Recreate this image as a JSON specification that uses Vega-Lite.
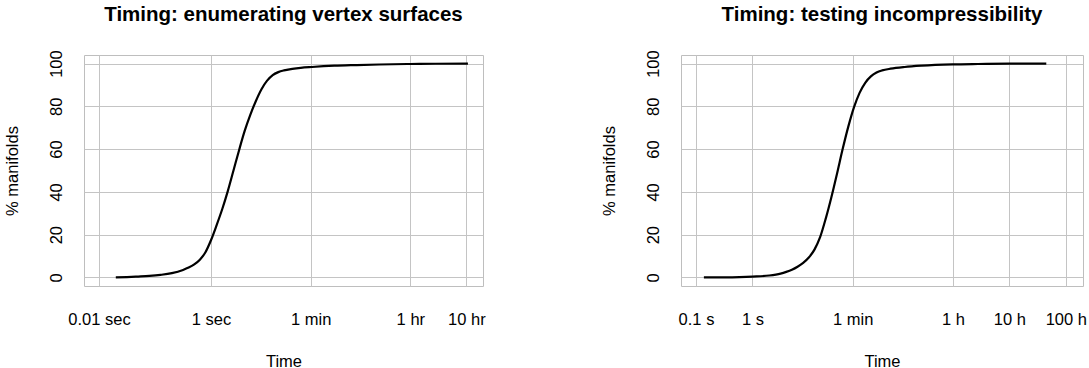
{
  "$schema": "https://vega.github.io/schema/vega-lite/v6.json",
  "background": "white",
  "padding": {"left": 3, "top": 4, "right": 0, "bottom": 0},
  "bounds": "flush",
  "spacing": 198,
  "datasets": {
    "enum": [
      {"t": 0.01995, "pct": 0},
      {"t": 0.03162, "pct": 0.15},
      {"t": 0.05012, "pct": 0.4},
      {"t": 0.07943, "pct": 0.7},
      {"t": 0.1259, "pct": 1.2},
      {"t": 0.1995, "pct": 2.0},
      {"t": 0.3162, "pct": 3.5},
      {"t": 0.3981, "pct": 4.6},
      {"t": 0.5012, "pct": 6.1},
      {"t": 0.631, "pct": 8.3},
      {"t": 0.7943, "pct": 11.8},
      {"t": 1.0, "pct": 17.5},
      {"t": 1.259, "pct": 24.5},
      {"t": 1.585, "pct": 32},
      {"t": 1.995, "pct": 40.5},
      {"t": 2.512, "pct": 50},
      {"t": 3.162, "pct": 59.5},
      {"t": 3.981, "pct": 68.5},
      {"t": 5.012, "pct": 76},
      {"t": 6.31, "pct": 82.5},
      {"t": 7.943, "pct": 88},
      {"t": 10, "pct": 92},
      {"t": 12.59, "pct": 94.6},
      {"t": 15.85, "pct": 96.0},
      {"t": 19.95, "pct": 96.8},
      {"t": 28.18, "pct": 97.5},
      {"t": 39.81, "pct": 98.0},
      {"t": 63.1, "pct": 98.4},
      {"t": 158.5, "pct": 99.0},
      {"t": 398.1, "pct": 99.3},
      {"t": 1000, "pct": 99.55},
      {"t": 3548, "pct": 99.8},
      {"t": 10000, "pct": 99.9},
      {"t": 38370, "pct": 100}
    ],
    "incomp": [
      {"t": 0.138, "pct": 0},
      {"t": 0.316, "pct": 0.05},
      {"t": 1.0, "pct": 0.4},
      {"t": 1.995, "pct": 0.9},
      {"t": 3.162, "pct": 1.8},
      {"t": 3.981, "pct": 2.6},
      {"t": 5.012, "pct": 3.6},
      {"t": 6.31, "pct": 5.0},
      {"t": 7.943, "pct": 6.8},
      {"t": 10, "pct": 9.3},
      {"t": 12.59, "pct": 13.0},
      {"t": 15.85, "pct": 18.8},
      {"t": 19.95, "pct": 27.5},
      {"t": 25.12, "pct": 37.5},
      {"t": 31.62, "pct": 48.5},
      {"t": 39.81, "pct": 60},
      {"t": 50.12, "pct": 70.5},
      {"t": 63.1, "pct": 79.5},
      {"t": 79.43, "pct": 86.3},
      {"t": 100, "pct": 91.0},
      {"t": 125.9, "pct": 94.0},
      {"t": 158.5, "pct": 95.8},
      {"t": 199.5, "pct": 96.8},
      {"t": 281.8, "pct": 97.6},
      {"t": 501.2, "pct": 98.4},
      {"t": 1000, "pct": 99.0},
      {"t": 3548, "pct": 99.6},
      {"t": 10000, "pct": 99.8},
      {"t": 36310, "pct": 99.95},
      {"t": 162200, "pct": 100}
    ]
  },
  "config": {
    "font": "Liberation Sans",
    "view": {"stroke": "#BEBEBE", "strokeWidth": 1},
    "axis": {
      "grid": true,
      "gridColor": "#C4C4C4",
      "gridOpacity": 1,
      "gridWidth": 1,
      "domain": false,
      "ticks": false,
      "tickSize": 0,
      "labelFont": "Liberation Sans",
      "labelFontSize": 16.5,
      "labelColor": "black",
      "labelOverlap": false,
      "labelFlush": false,
      "titleFont": "Liberation Sans",
      "titleFontSize": 16.5,
      "titleFontWeight": "normal",
      "titleColor": "black"
    },
    "axisX": {
      "labelBaseline": "alphabetic",
      "labelPadding": 38.5,
      "titleBaseline": "alphabetic",
      "titleY": 80
    },
    "axisY": {
      "labelAngle": 270,
      "labelAlign": "center",
      "labelBaseline": "alphabetic",
      "labelPadding": 23,
      "titleAngle": 270,
      "titleAlign": "center",
      "titleBaseline": "alphabetic",
      "titleX": -67,
      "titleY": 115.5
    },
    "title": {
      "font": "Liberation Sans",
      "fontSize": 20.5,
      "fontWeight": "bold",
      "color": "black",
      "anchor": "middle",
      "frame": "group",
      "baseline": "alphabetic",
      "offset": 24
    }
  },
  "hconcat": [
    {
      "title": "Timing: enumerating vertex surfaces",
      "width": 399,
      "height": 231,
      "data": {"name": "enum"},
      "mark": {"type": "line", "color": "black", "strokeWidth": 2.2, "interpolate": "monotone", "clip": true},
      "encoding": {
        "x": {
          "field": "t",
          "type": "quantitative",
          "scale": {"type": "log", "domain": [0.0054, 71300], "nice": false},
          "axis": {
            "title": "Time",
            "values": [0.01, 1, 60, 3600, 36000],
            "labelExpr": "datum.value < 0.1 ? '0.01 sec' : datum.value < 10 ? '1 sec' : datum.value < 100 ? '1 min' : datum.value < 10000 ? '1 hr' : '10 hr'"
          }
        },
        "y": {
          "field": "pct",
          "type": "quantitative",
          "scale": {"domain": [-4, 104], "nice": false, "zero": false},
          "axis": {"title": "% manifolds", "values": [0, 20, 40, 60, 80, 100]}
        }
      }
    },
    {
      "title": "Timing: testing incompressibility",
      "width": 402,
      "height": 231,
      "data": {"name": "incomp"},
      "mark": {"type": "line", "color": "black", "strokeWidth": 2.2, "interpolate": "monotone", "clip": true},
      "encoding": {
        "x": {
          "field": "t",
          "type": "quantitative",
          "scale": {"type": "log", "domain": [0.0542, 726000], "nice": false},
          "axis": {
            "title": "Time",
            "values": [0.1, 1, 60, 3600, 36000, 360000],
            "labelExpr": "datum.value < 0.5 ? '0.1 s' : datum.value < 10 ? '1 s' : datum.value < 100 ? '1 min' : datum.value < 10000 ? '1 h' : datum.value < 100000 ? '10 h' : '100 h'"
          }
        },
        "y": {
          "field": "pct",
          "type": "quantitative",
          "scale": {"domain": [-4, 104], "nice": false, "zero": false},
          "axis": {"title": "% manifolds", "values": [0, 20, 40, 60, 80, 100]}
        }
      }
    }
  ]
}
